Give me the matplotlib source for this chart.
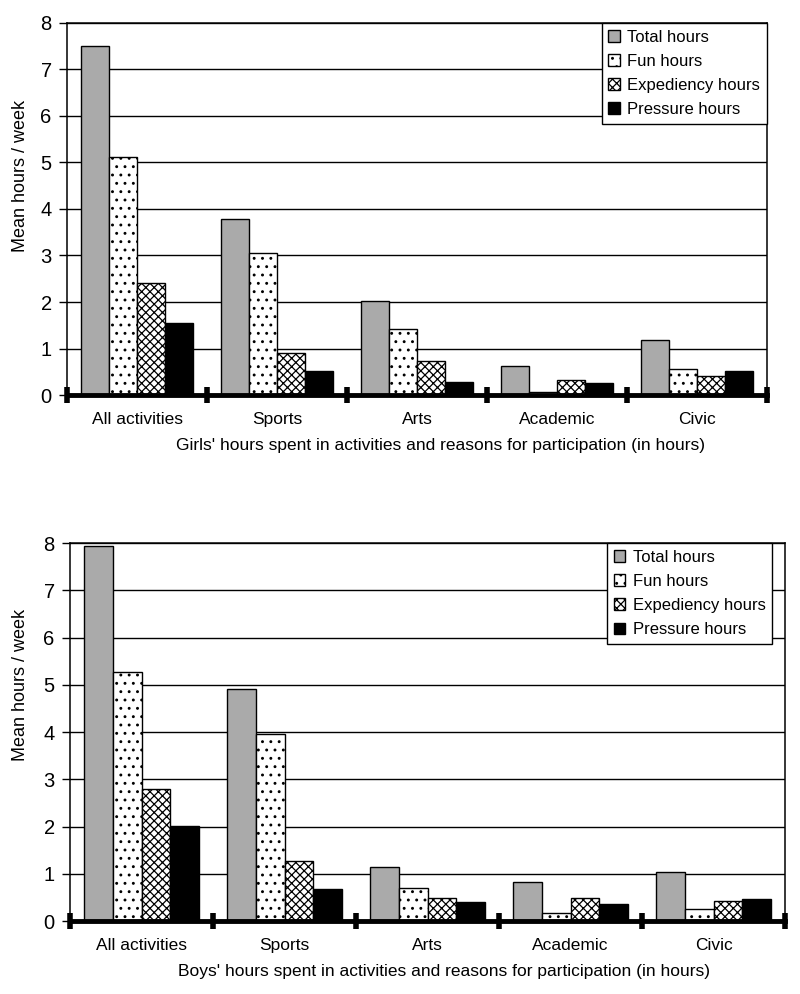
import numpy as np
import matplotlib
matplotlib.use("Agg")
from matplotlib import pyplot as plt

plt.rcParams['font.family'] = ['Liberation Sans', 'DejaVu Sans']
plt.rcParams['hatch.linewidth'] = 0.9

categories = ["All activities", "Sports", "Arts", "Academic", "Civic"]
series = ["Total hours", "Fun hours", "Expediency hours", "Pressure hours"]

girls_total = [7.50, 3.78, 2.02, 0.62, 1.19]
girls_fun = [5.12, 3.05, 1.43, 0.07, 0.55]
girls_exp = [2.41, 0.91, 0.74, 0.33, 0.41]
girls_pressure = [1.55, 0.52, 0.27, 0.26, 0.51]

boys_total = [7.93, 4.91, 1.14, 0.82, 1.03]
boys_fun = [5.27, 3.96, 0.70, 0.18, 0.26]
boys_exp = [2.80, 1.27, 0.48, 0.48, 0.43]
boys_pressure = [2.02, 0.67, 0.40, 0.37, 0.47]

# fill, hatch per series
styles = [("#aaaaaa", ""), ("white", ".."), ("white", "xxxx"), ("black", "")]


def draw(ax, values, xlabel, xlab_x, ylab_pos, leg_anchor):
    x = np.arange(len(categories)) + 0.5
    w = 0.2
    for i, (vals, name, (fc, h)) in enumerate(zip(values, series, styles)):
        ax.bar(x + (i - 1.5) * w, vals, w, color=fc, hatch=h,
               edgecolor="black", linewidth=1.0, label=name, zorder=3)
    ax.set_xlim(0, 5)
    ax.set_ylim(0, 8)
    ax.set_yticks(range(9))
    ax.yaxis.grid(True, color="black", linewidth=1.0, zorder=0)
    ax.set_axisbelow(True)
    # category separators as major ticks, names on minor ticks
    ax.set_xticks(range(6))
    ax.set_xticklabels([])
    ax.set_xticks(x, minor=True)
    ax.set_xticklabels(categories, minor=True, fontsize=12.5)
    ax.tick_params(axis="x", which="major", direction="inout", length=12,
                   width=4, color="black")
    ax.tick_params(axis="x", which="minor", length=0, pad=12)
    ax.tick_params(axis="y", direction="out", length=6, width=1,
                   labelsize=14.5, pad=5)
    for s in ["left", "right", "top"]:
        ax.spines[s].set_linewidth(1.1)
    ax.spines["bottom"].set_linewidth(3.5)
    ax.spines["bottom"].set_zorder(4)
    ax.set_ylabel("Mean hours / week", fontsize=13)
    ax.yaxis.set_label_coords(*ylab_pos)
    ax.set_xlabel(xlabel, fontsize=12.5, labelpad=8)
    ax.xaxis.label.set_x(xlab_x)
    leg = ax.legend(loc="upper right", bbox_to_anchor=leg_anchor,
                    borderaxespad=0, fancybox=False,
                    edgecolor="black", framealpha=1, fontsize=12,
                    handlelength=0.7, handleheight=0.7, handletextpad=0.45,
                    labelspacing=0.55, borderpad=0.4)
    leg.get_frame().set_linewidth(1.0)


fig = plt.figure(figsize=(8, 9.94), dpi=100)
ax1 = fig.add_axes([0.08375, 0.6026, 0.875, 0.3743])
ax2 = fig.add_axes([0.0875, 0.0734, 0.894, 0.3803])

draw(ax1, [girls_total, girls_fun, girls_exp, girls_pressure],
     "Girls' hours spent in activities and reasons for participation (in hours)",
     0.533, (-0.054, 0.59), (1.0, 1.0))
draw(ax2, [boys_total, boys_fun, boys_exp, boys_pressure],
     "Boys' hours spent in activities and reasons for participation (in hours)",
     0.523, (-0.057, 0.625), (0.982, 1.0))

fig.savefig("out.png", dpi=100)
